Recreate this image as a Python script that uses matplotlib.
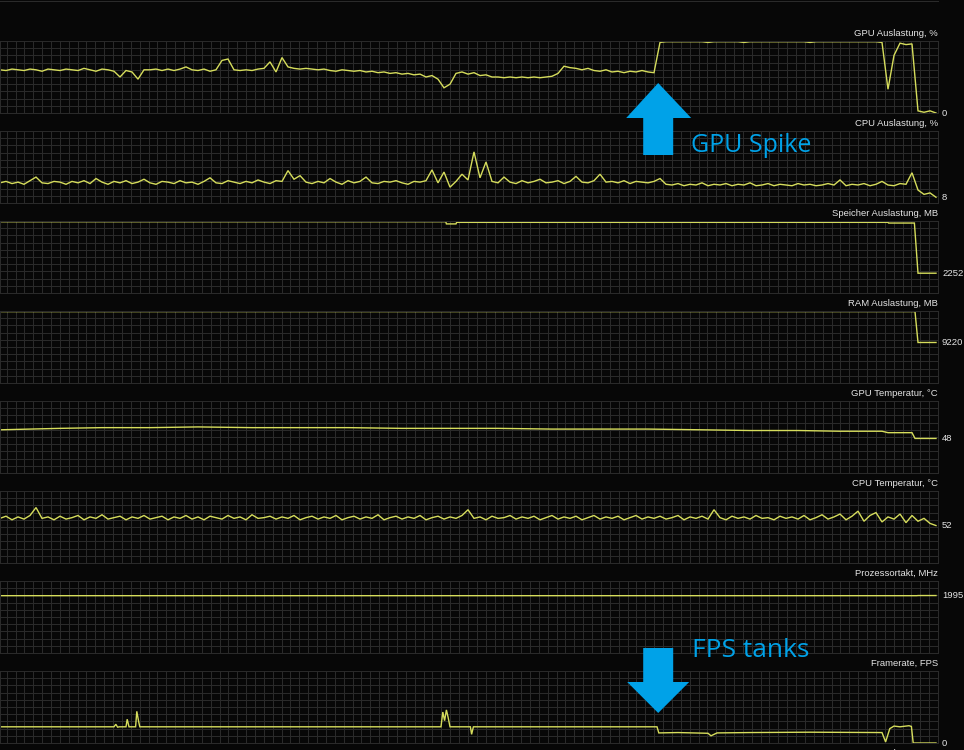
import numpy as np
import matplotlib
matplotlib.use("Agg")  # no display
import matplotlib.pyplot as plt
from matplotlib.patches import Polygon
from matplotlib.lines import Line2D

# --- monitoring data, one sample per second ---------------------------------
gpu_load = [
    60, 59, 61, 60, 59, 61, 60, 58, 61, 60,
    59, 61, 60, 59, 62, 60, 58, 61, 60, 58,
    50, 59, 57, 47, 60, 60, 61, 59, 61, 59,
    61, 64, 60, 59, 61, 58, 60, 73, 75, 60,
    59, 60, 59, 61, 62, 71, 57, 77, 64, 62,
    61, 62, 61, 60, 61, 59, 58, 60, 59, 58,
    59, 57, 58, 56, 57, 55, 56, 54, 55, 53,
    54, 50, 52, 47, 35, 40, 55, 57, 54, 56,
    52, 53, 50, 50, 49, 50, 49, 50, 49, 50,
    49, 50, 51, 55, 65, 63, 62, 60, 62, 59,
    58, 60, 57, 58, 56, 58, 57, 59, 57, 56,
    98, 99, 99, 99, 99, 99, 99, 99, 98, 99,
    99, 99, 99, 99, 98, 99, 99, 99, 99, 99,
    99, 99, 99, 99, 99, 98, 99, 99, 99, 99,
    99, 99, 99, 99, 99, 99, 99, 98, 33, 80,
    97, 95, 96, 3, 1, 3, 0,
]
cpu_load = [
    28, 30, 27, 29, 26, 31, 36, 28, 27, 30,
    29, 26, 30, 28, 31, 27, 34, 29, 26, 30,
    28, 31, 27, 29, 33, 28, 26, 30, 29, 27,
    31, 28, 29, 26, 30, 35, 28, 27, 31, 29,
    27, 30, 28, 32, 29, 27, 31, 30, 45, 33,
    38, 29, 27, 30, 28, 34, 29, 26, 31, 28,
    30, 36, 28, 27, 30, 29, 31, 28, 26, 30,
    29, 31, 46, 28, 43, 22, 30, 40, 32, 71,
    35, 57, 30, 28, 36, 29, 27, 31, 28, 30,
    33, 28, 29, 31, 27, 30, 37, 29, 28, 31,
    40, 29, 30, 28, 31, 27, 30, 29, 28, 30,
    34, 26, 25, 27, 24, 26, 25, 28, 24, 26,
    25, 27, 24, 26, 25, 28, 24, 25, 27, 24,
    26, 25, 24, 27, 25, 26, 24, 25, 27, 25,
    32, 24, 26, 25, 27, 24, 26, 30, 25, 24,
    27, 26, 42, 18, 12, 14, 8,
]
cpu_temp = [
    62, 65, 60, 64, 61, 66, 77, 62, 64, 60,
    65, 61, 63, 66, 60, 64, 62, 67, 61, 63,
    65, 60, 64, 62, 66, 61, 63, 65, 60, 64,
    62, 66, 61, 64, 60, 65, 63, 61, 66, 62,
    64, 60, 67, 62, 63, 65, 61, 64, 62, 66,
    60, 63, 65, 61, 64, 62, 66, 60, 63, 65,
    61, 64, 62, 67, 60, 63, 65, 61, 64, 62,
    66, 60, 63, 65, 61, 64, 62, 66, 74, 62,
    64, 60, 65, 62, 63, 66, 61, 64, 62, 65,
    60, 63, 66, 61, 64, 62, 65, 60, 63, 66,
    61, 64, 62, 65, 60, 63, 66, 61, 64, 62,
    65, 61, 63, 66, 60, 64, 62, 65, 61, 74,
    63, 60, 65, 62, 64, 61, 66, 62, 63, 60,
    65, 62, 64, 61, 66, 60, 63, 67, 61, 64,
    68, 60, 65, 72, 58, 66, 70, 57, 64, 61,
    68, 56, 66, 58, 62, 55, 52,
]
t = np.arange(len(gpu_load))

gpu_temp_t = [0, 5, 10, 17, 25, 33, 42, 50, 58, 67, 75, 83, 92, 100, 108,
              117, 125, 133, 140, 147, 148, 152, 152.5, 156]
gpu_temp = [60, 61, 62, 63, 63, 64, 63, 63, 63, 62, 62, 62, 61, 61, 61,
            60, 59, 59, 58, 58, 56, 56, 48, 48]

vram_t = [0, 74.3, 74.4, 76, 76.1, 148, 148.1, 152.4, 153, 156]
vram_mb = [8110, 8110, 7860, 7860, 8040, 8040, 7960, 7960, 2252, 2252]

ram_t = [0, 152.5, 153, 156]
ram_mb = [16250, 16250, 9220, 9220]

clock_t = [0, 152.8, 153, 156]
clock_mhz = [1990, 1990, 1995, 1995]

fps_t = [0, 19.0, 19.3, 19.6, 19.9, 21.0, 21.2, 21.5, 22.6, 22.8, 23.1, 23.3,
         73.5, 73.8, 74.1, 74.4, 74.7, 75.0, 78.4, 78.6, 78.9,
         109.5, 109.8, 113, 118, 118.5, 119.5, 125, 135, 147, 147.6, 148.3,
         149, 150, 151.5, 151.9, 152.2, 156]
fps = [45, 45, 52, 44, 45, 45, 66, 45, 45, 88, 60, 45,
       45, 86, 62, 92, 70, 45, 45, 24, 45,
       45, 28, 29, 27, 20, 28, 29, 30, 29, 3, 40,
       47, 45, 48, 46, 0, 0]

panel_titles = ["GPU Auslastung, %", "CPU Auslastung, %", "Speicher Auslastung, MB",
                "RAM Auslastung, MB", "GPU Temperatur, °C", "CPU Temperatur, °C",
                "Prozessortakt, MHz", "Framerate, FPS"]
panel_series = [(t, gpu_load), (t, cpu_load), (vram_t, vram_mb), (ram_t, ram_mb),
                (gpu_temp_t, gpu_temp), (t, cpu_temp), (clock_t, clock_mhz), (fps_t, fps)]
panel_ylims = [(0, 100), (0, 100), (0, 8192), (0, 16384),
               (0, 100), (0, 100), (0, 2500), (0, 200)]
spike_t = 109.7

# --- layout (pixels) ---------------------------------------------------------
FIG_W, FIG_H = 964, 750
PLOT_RIGHT = 938
PX_PER_S = 6
T_MAX = PLOT_RIGHT / PX_PER_S
TOP0, PITCH, PANEL_H = 41, 90, 72
BG = "#070707"
GRID = "#2a2a2a"
LINE = "#d6dd5c"
TXT = "#e4e4e4"
BLUE = "#00a2e8"


def fx(x):
    return x / FIG_W


def fy(y):
    return 1 - y / FIG_H


fig = plt.figure(figsize=(FIG_W / 100, FIG_H / 100), dpi=100, facecolor=BG)
vgrid = np.arange(T_MAX, 0, -8.87 / PX_PER_S)

for k, (title, (xs, ys), ylim) in enumerate(zip(panel_titles, panel_series, panel_ylims)):
    top = TOP0 + k * PITCH
    ax = fig.add_axes([0, fy(top + PANEL_H), fx(PLOT_RIGHT), PANEL_H / FIG_H])
    ax.set_facecolor(BG)
    ax.set_xlim(0, T_MAX)
    ax.set_ylim(*ylim)
    ax.set_xticks(vgrid)
    ax.set_yticks(np.linspace(ylim[0], ylim[1], 11))
    ax.tick_params(length=0, labelbottom=False, labelleft=False)
    ax.grid(True, color=GRID, lw=0.75)
    ax.set_axisbelow(True)
    for s in ax.spines.values():
        s.set_color(GRID)
        s.set_linewidth(0.75)
    ax.plot(xs, ys, color=LINE, lw=1.0, solid_joinstyle="miter")

    fig.text(fx(PLOT_RIGHT), fy(top - 8), title, ha="right", va="center",
             color=TXT, fontsize=6.8, family="Liberation Sans")
    # current value next to the right edge
    last_y = ax.transData.transform((xs[-1], ys[-1]))[1]
    fig.text(fx(942), last_y / FIG_H, str(int(round(ys[-1]))), ha="left", va="center",
             color=TXT, fontsize=6.8, family="Liberation Sans")

# next graph in the list, cut by the window edge
fig.text(fx(PLOT_RIGHT), fy(TOP0 + 8 * PITCH - 8), "CPU Auslastung, %", ha="right",
         va="center", color=TXT, fontsize=6.8, family="Liberation Sans")
fig.add_artist(Line2D([0, fx(PLOT_RIGHT)], [fy(0.5), fy(0.5)], color=GRID, lw=0.75))

# --- annotations ---------------------------------------------------------------
cx = spike_t * PX_PER_S
up = [(cx, 83), (cx + 33, 118), (cx + 15, 118), (cx + 15, 155),
      (cx - 15, 155), (cx - 15, 118), (cx - 32, 118)]
down = [(cx - 15, 648), (cx + 15, 648), (cx + 15, 682), (cx + 31, 682),
        (cx, 713), (cx - 31, 682), (cx - 15, 682)]
for pts in (up, down):
    fig.add_artist(Polygon([(fx(x), fy(y)) for x, y in pts], closed=True,
                           transform=fig.transFigure, facecolor=BLUE, edgecolor="none"))

fig.text(fx(cx + 33), fy(152), "GPU Spike", color=BLUE, fontsize=18,
         family="Open Sans", va="baseline", ha="left")
fig.text(fx(cx + 34), fy(657), "FPS tanks", color=BLUE, fontsize=19,
         family="Open Sans", va="baseline", ha="left")

fig.savefig("out.png", dpi=100, facecolor=BG)
plt.close(fig)
